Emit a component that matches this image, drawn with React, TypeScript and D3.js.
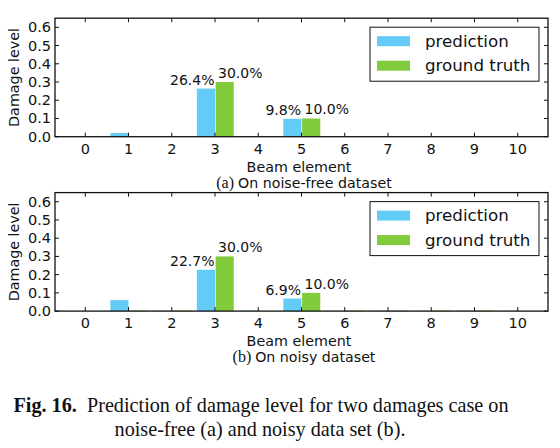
import * as d3 from "d3"

// datos
const elementos = [0, 1, 2, 3, 4, 5, 6, 7, 8, 9, 10]
const prediccionA = [0, 0.02, 0, 0.264, 0, 0.098, 0, 0, 0, 0, 0]
const verdadA = [0, 0, 0, 0.3, 0, 0.1, 0, 0, 0, 0, 0]
const prediccionB = [0, 0.06, 0.002, 0.227, 0.002, 0.069, 0.001, 0.002, 0.001, 0.002, 0.001]
const verdadB = [0, 0.003, 0.003, 0.3, 0, 0.1, 0.003, 0.003, 0.003, 0.003, 0]
const ticksY = [0, 0.1, 0.2, 0.3, 0.4, 0.5, 0.6]
const serieNombres = ["prediction", "ground truth"]
const colores = ["#62cbf6", "#82cb3c"]

const W = 560
const H = 448
const sans = "DejaVu Sans, sans-serif"
const serif = "Liberation Serif, Times New Roman, serif"

interface PanelProps {
  top: number
  prediccion: number[]
  verdad: number[]
  letra: string
  subtitulo: string
}

function Panel({ top, prediccion, verdad, letra, subtitulo }: PanelProps) {
  const left = 55
  const right = 548
  const alto = 118.5
  const x = d3.scaleLinear().domain([-0.7, 10.7]).range([left, right])
  const y = d3.scaleLinear().domain([0, 0.65]).range([top + alto, top])
  const ancho = x(0.42) - x(0)
  const fmt = (v: number) => (v * 100).toFixed(1) + "%"
  const tick = 4

  return (
    <g>
      {/* barras */}
      {elementos.map((e, i) => (
        <g key={"b" + e}>
          <rect x={x(e) - ancho} y={y(prediccion[i])} width={ancho} height={y(0) - y(prediccion[i])} fill={colores[0]} />
          <rect x={x(e) + 0.6} y={y(verdad[i])} width={ancho} height={y(0) - y(verdad[i])} fill={colores[1]} />
        </g>
      ))}
      {/* etiquetas de porcentaje */}
      {elementos.map((e, i) =>
        verdad[i] >= 0.05 ? (
          <g key={"l" + e} fontFamily={sans} fontSize={14} fill="#111">
            <text x={x(e) - 0.5} y={y(prediccion[i]) - 4} textAnchor="end">
              {fmt(prediccion[i])}
            </text>
            <text x={x(e) + 3} y={y(verdad[i]) - 4} textAnchor="start">
              {fmt(verdad[i])}
            </text>
          </g>
        ) : null
      )}
      {/* marco */}
      <rect x={left} y={top} width={right - left} height={alto} fill="none" stroke="#111" strokeWidth={1.3} />
      {/* ticks x */}
      {elementos.map((e) => (
        <g key={"tx" + e}>
          <line x1={x(e)} x2={x(e)} y1={y(0)} y2={y(0) - tick} stroke="#111" />
          <line x1={x(e)} x2={x(e)} y1={top} y2={top + tick} stroke="#111" />
          <text x={x(e)} y={y(0) + 17} textAnchor="middle" fontFamily={sans} fontSize={14.5} fill="#111">
            {e}
          </text>
        </g>
      ))}
      {/* ticks y */}
      {ticksY.map((t) => (
        <g key={"ty" + t}>
          <line x1={left} x2={left + tick} y1={y(t)} y2={y(t)} stroke="#111" />
          <line x1={right} x2={right - tick} y1={y(t)} y2={y(t)} stroke="#111" />
          <text x={left - 4} y={y(t) + 5} textAnchor="end" fontFamily={sans} fontSize={14.5} fill="#111">
            {t.toFixed(1)}
          </text>
        </g>
      ))}
      {/* títulos de ejes */}
      <text
        transform={`translate(19,${top + alto / 2}) rotate(-90)`}
        textAnchor="middle"
        fontFamily={sans}
        fontSize={14.3}
        fill="#111"
      >
        Damage level
      </text>
      <text x={299} y={top + alto + 35} textAnchor="middle" fontFamily={sans} fontSize={14.3} fill="#111">
        Beam element
      </text>
      <text x={304} y={top + alto + 51} textAnchor="middle" fontSize={14.2} fill="#111">
        <tspan fontFamily={serif} fontSize={16}>{`(${letra}) `}</tspan>
        <tspan fontFamily={sans}>{subtitulo}</tspan>
      </text>
      {/* leyenda */}
      <g>
        <rect x={370} y={top + 9} width={169} height={54} fill="#fff" stroke="#111" strokeWidth={1} />
        {serieNombres.map((n, i) => (
          <g key={n}>
            <rect x={377} y={top + 18 + i * 24.5} width={33} height={10} fill={colores[i]} />
            <text x={425} y={top + 28.5 + i * 24.5} fontFamily={sans} fontSize={16.7} fill="#111">
              {n}
            </text>
          </g>
        ))}
      </g>
    </g>
  )
}

export default function App() {
  return (
    <div style={{ position: "absolute", left: 0, top: 0 }}>
      <svg width={W} height={H} viewBox={`0 0 ${W} ${H}`} style={{ display: "block", background: "#fff" }}>
        <Panel top={18.2} prediccion={prediccionA} verdad={verdadA} letra="a" subtitulo="On noise-free dataset" />
        <Panel top={192.6} prediccion={prediccionB} verdad={verdadB} letra="b" subtitulo="On noisy dataset" />
        <text x={261} y={412} textAnchor="middle" fontFamily={serif} fontSize={20.2} fill="#111">
          <tspan fontWeight="bold">Fig. 16.</tspan>
          <tspan>{"\u00a0 Prediction of damage level for two damages case on"}</tspan>
        </text>
        <text x={260} y={436} textAnchor="middle" fontFamily={serif} fontSize={20.2} fill="#111">
          noise-free (a) and noisy data set (b).
        </text>
      </svg>
    </div>
  )
}
